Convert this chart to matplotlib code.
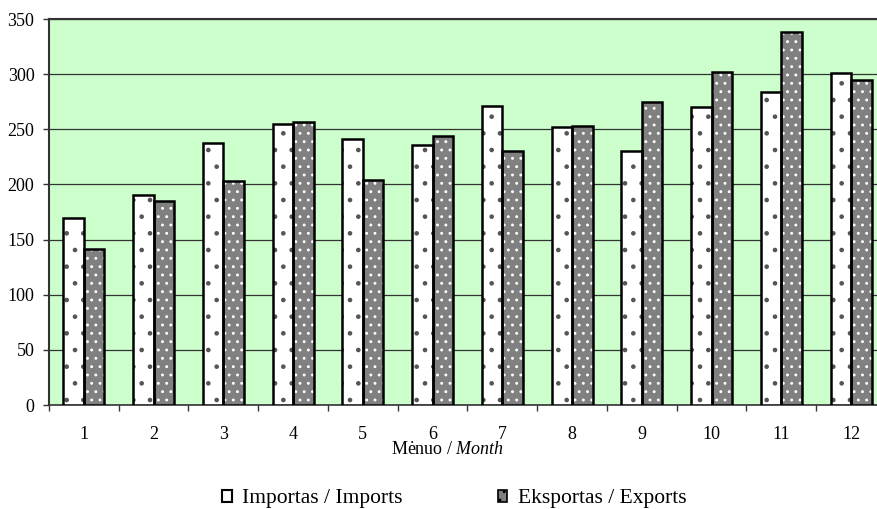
import numpy as np
import matplotlib.pyplot as plt
from matplotlib.patches import Patch

plt.rcParams['font.family'] = ['Liberation Serif', 'DejaVu Serif']
plt.rcParams['mathtext.fontset'] = 'custom'
plt.rcParams['mathtext.it'] = 'Liberation Serif:italic'
plt.rcParams['mathtext.rm'] = 'Liberation Serif'
plt.rcParams['hatch.linewidth'] = 0.9

months = [str(m) for m in range(1, 13)]
imports = [170, 190, 238, 255, 241, 236, 271, 252, 230, 270, 284, 301]
exports = [141, 185, 203, 257, 204, 244, 230, 253, 275, 302, 338, 295]

fig = plt.figure(figsize=(8.78, 5.09), dpi=100)
# plot area runs a little past the right edge of the picture, as in the original
ax = fig.add_axes([49 / 878, 104 / 509, 837 / 878, 386 / 509])
ax.set_facecolor('#ccffcc')

x = np.arange(len(months))
w = 0.294

# imports: white with small dark dots
ax.bar(x - w / 2, imports, w, color='white', edgecolor='#555555', hatch='.', linewidth=0, zorder=3)
ax.bar(x - w / 2, imports, w, fill=False, edgecolor='black', linewidth=1.8, zorder=4)
# exports: grey with white dots
ax.bar(x + w / 2, exports, w, color='#808080', edgecolor='white', hatch='..', linewidth=0, zorder=3)
ax.bar(x + w / 2, exports, w, fill=False, edgecolor='black', linewidth=1.8, zorder=4)

ax.set_xlim(-0.5, 11.5)
ax.set_ylim(0, 350)
ax.set_yticks(range(0, 351, 50))
ax.grid(axis='y', color='#333333', linewidth=0.9, zorder=1)
ax.set_axisbelow(True)

ax.set_xticks(np.arange(-0.5, 12, 1))
ax.set_xticklabels([])
ax.set_xticks(x, minor=True)
ax.set_xticklabels(months, minor=True)
ax.tick_params(axis='x', which='major', direction='out', length=4, width=1, color='#333333')
ax.tick_params(axis='x', which='minor', length=0, pad=15, labelsize=13)
ax.tick_params(axis='y', direction='out', length=4.5, width=1, color='#333333', labelsize=13, pad=6)

for s in ['top', 'left']:
    ax.spines[s].set_color('#333333')
    ax.spines[s].set_linewidth(1.5)
ax.spines['bottom'].set_color('#333333')
ax.spines['bottom'].set_linewidth(1.2)
ax.spines['right'].set_visible(False)

fig.text(448 / 878, 1 - 450 / 509, r'Mėnuo / $\it{Month}$', fontsize=13, ha='center', va='center')

handles = [
    Patch(facecolor='white', edgecolor='black', linewidth=1.5),
    Patch(facecolor='#808080', edgecolor='black', hatch='..', linewidth=1.2),
]
fig.legend(handles, ['Importas / Imports', 'Eksportas / Exports'],
           loc='center left', bbox_to_anchor=(222 / 878, 1 - 499 / 509), ncol=2, frameon=False,
           fontsize=15.5, handlelength=0.45, handleheight=0.45, handletextpad=0.5,
           columnspacing=4.4, borderaxespad=0, borderpad=0)

fig.savefig('out.png', dpi=100)
